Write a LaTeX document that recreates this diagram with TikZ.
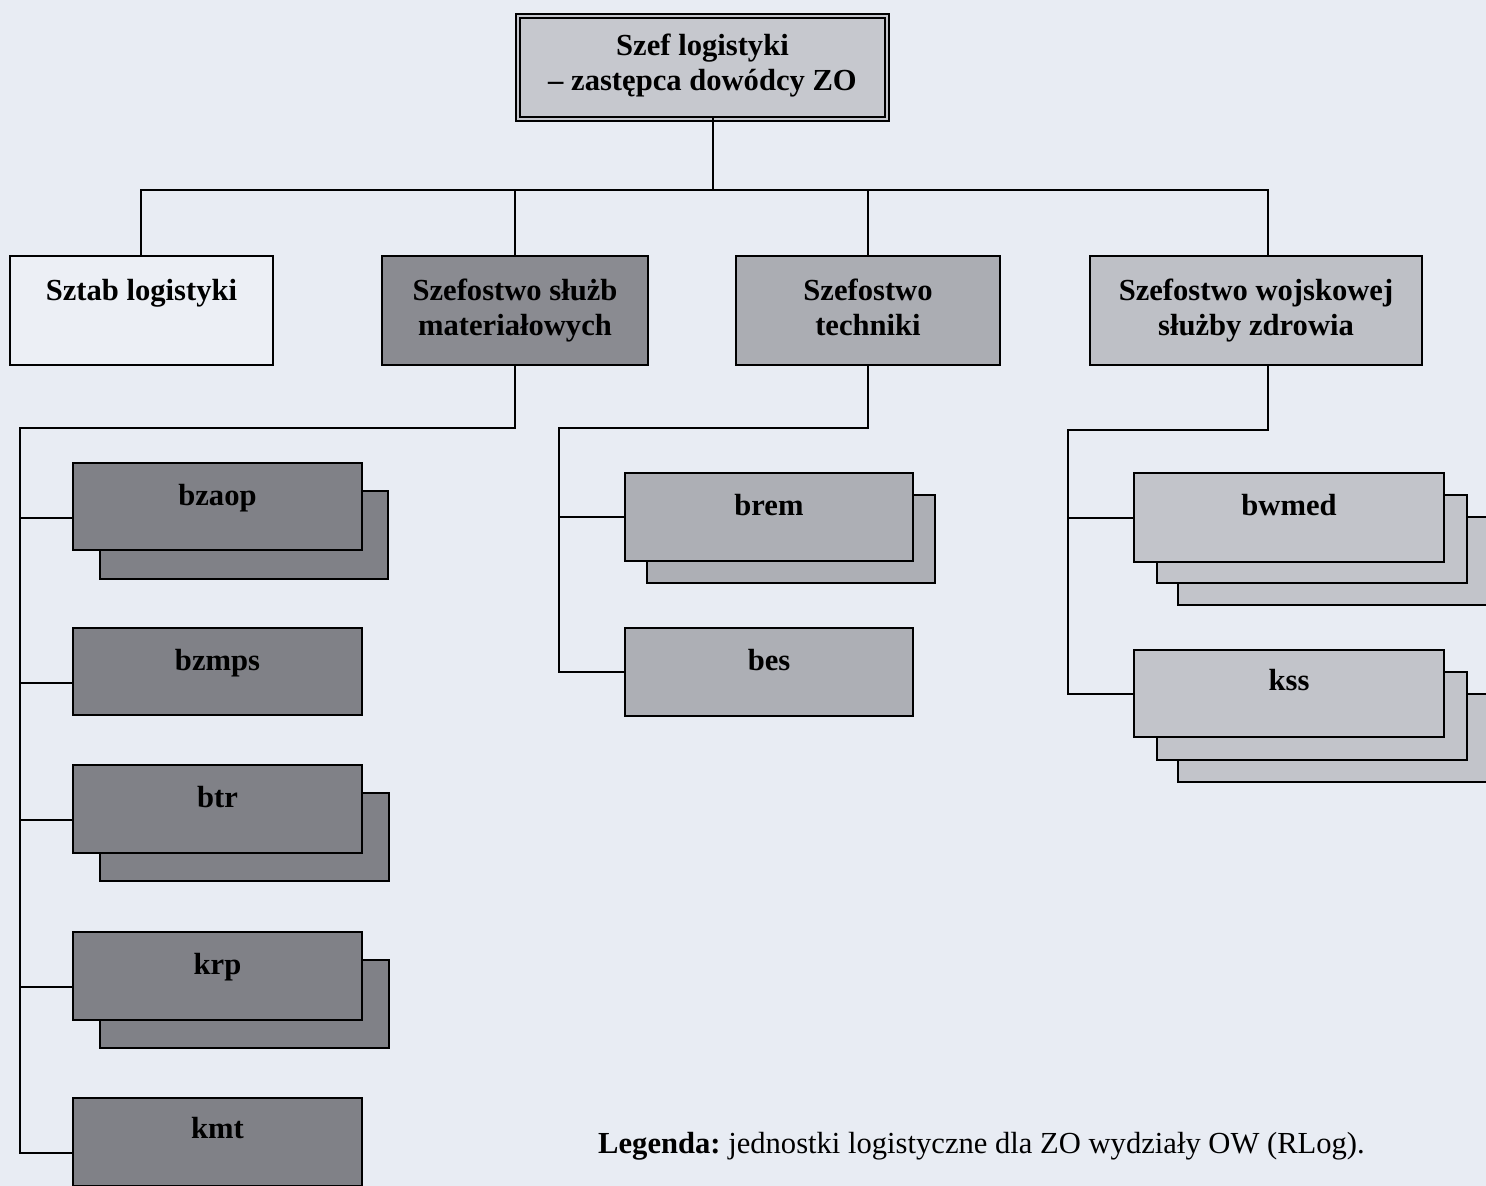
\documentclass[tikz,border=0pt]{standalone}
\usepackage{fontspec}
\setmainfont{Liberation Serif}
\definecolor{bgc}{RGB}{232,236,243}
\definecolor{topc}{RGB}{198,200,206}
\definecolor{sztabc}{RGB}{236,239,245}
\definecolor{darkc}{RGB}{138,139,145}
\definecolor{midc}{RGB}{171,173,179}
\definecolor{lightc}{RGB}{190,192,198}
\definecolor{ldarkc}{RGB}{128,129,135}
\definecolor{lmidc}{RGB}{173,175,181}
\definecolor{llightc}{RGB}{194,196,202}
\newcommand\boxtext[4]{\parbox[t][#2][t]{#1}{\centering\rule{0pt}{#3}#4}}
\tikzset{
  bx/.style={draw=black, line width=2.2pt, inner sep=0pt, outer sep=0pt, anchor=north west,
             font=\fontsize{30.6}{35}\selectfont\bfseries},
  backbx/.style={bx, minimum width=#1, minimum height=88pt},
  conn/.style={line width=2pt, line cap=rect},
}
\begin{document}
\begin{tikzpicture}[x=1pt,y=-1pt]
\useasboundingbox (0,0) rectangle (1486,1186);
\fill[bgc] (0,0) rectangle (1486,1186);
\clip (0,0) rectangle (1486,1186);

% top box
\node[bx, fill=topc, line width=1.8pt, double=topc, double distance=2.6pt] (szef) at (518,16)
  {\boxtext{369pt}{103pt}{39pt}{Szef logistyki\\– zastępca dowódcy ZO}};

% second level
\node[bx, fill=sztabc] (sztab) at (10,256) {\boxtext{263pt}{109pt}{44pt}{Sztab logistyki}};
\node[bx, fill=darkc] (sluzb) at (382,256) {\boxtext{266pt}{109pt}{44pt}{Szefostwo służb\\materiałowych}};
\node[bx, fill=midc] (techn) at (736,256) {\boxtext{264pt}{109pt}{44pt}{Szefostwo\\techniki}};
\node[bx, fill=lightc] (wojsk) at (1090,256) {\boxtext{332pt}{109pt}{44pt}{Szefostwo wojskowej\\służby zdrowia}};

% connectors top
\coordinate (j0) at (713,190);
\coordinate (hL) at (141,190);
\coordinate (hR) at (1268,190);
\draw[conn] (szef.south -| j0) -- (j0);
\draw[conn] (hL) -- (hR);
\draw[conn] (hL) -- (hL |- sztab.north);
\draw[conn] (hL -| sluzb.north) -- (sluzb.north);
\draw[conn] (hL -| techn.north) -- (techn.north);
\draw[conn] (hR) -- (hR |- wojsk.north);

% left column children (materiałowe)
\node[backbx=288pt, fill=ldarkc] (bzaopB) at (100,491) {};
\node[bx, fill=ldarkc] (bzaop) at (73,463) {\boxtext{289pt}{87pt}{42pt}{bzaop}};
\node[bx, fill=ldarkc] (bzmps) at (73,628) {\boxtext{289pt}{87pt}{42pt}{bzmps}};
\node[backbx=289pt, fill=ldarkc] (btrB) at (100,793) {};
\node[bx, fill=ldarkc] (btr) at (73,765) {\boxtext{289pt}{88pt}{42pt}{btr}};
\node[backbx=289pt, fill=ldarkc] (krpB) at (100,960) {};
\node[bx, fill=ldarkc] (krp) at (73,932) {\boxtext{289pt}{88pt}{42pt}{krp}};
\node[bx, fill=ldarkc] (kmt) at (73,1098) {\boxtext{289pt}{88pt}{40pt}{kmt}};

\coordinate (bzaopL) at ([yshift=-11pt]bzaop.west);
\coordinate (bzmpsL) at ([yshift=-11pt]bzmps.west);
\coordinate (btrL) at ([yshift=-11pt]btr.west);
\coordinate (krpL) at ([yshift=-11pt]krp.west);
\coordinate (kmtL) at ([yshift=-11pt]kmt.west);
\coordinate (lc) at (20,428);
\draw[conn] (sluzb.south) |- (lc) -- (lc |- kmtL) -- (kmtL);
\draw[conn] (lc |- bzaopL) -- (bzaopL);
\draw[conn] (lc |- bzmpsL) -- (bzmpsL);
\draw[conn] (lc |- btrL) -- (btrL);
\draw[conn] (lc |- krpL) -- (krpL);

% techniki children
\node[backbx=288pt, fill=lmidc] (bremB) at (647,495) {};
\node[bx, fill=lmidc] (brem) at (625,473) {\boxtext{288pt}{88pt}{42pt}{brem}};
\node[bx, fill=lmidc] (bes) at (625,628) {\boxtext{288pt}{88pt}{42pt}{bes}};
\coordinate (tc) at (559,428);
\draw[conn] (techn.south) |- (tc) -- (tc |- bes.west) -- (bes.west);
\draw[conn] (tc |- brem.west) -- (brem.west);

% zdrowie children
\node[backbx=310pt, fill=llightc] (bwmedC) at (1178,517) {};
\node[backbx=310pt, fill=llightc] (bwmedB) at (1157,495) {};
\node[bx, fill=llightc] (bwmed) at (1134,473) {\boxtext{310pt}{89pt}{42pt}{bwmed}};
\node[backbx=310pt, fill=llightc] (kssC) at (1178,694) {};
\node[backbx=310pt, fill=llightc] (kssB) at (1157,672) {};
\node[bx, fill=llightc] (kss) at (1134,650) {\boxtext{310pt}{87pt}{40pt}{kss}};
\coordinate (wc) at (1068,430);
\draw[conn] (hR |- wojsk.south) -- (hR |- wc) -- (wc) -- (wc |- kss.west) -- (kss.west);
\draw[conn] (wc |- bwmed.west) -- (bwmed.west);

% legend
\node[anchor=base west, inner sep=0pt, font=\fontsize{30.6}{35}\selectfont] (legend) at (598,1153)
  {\textbf{Legenda:}~jednostki logistyczne dla ZO wydziały OW (RLog).};
\end{tikzpicture}
\end{document}
